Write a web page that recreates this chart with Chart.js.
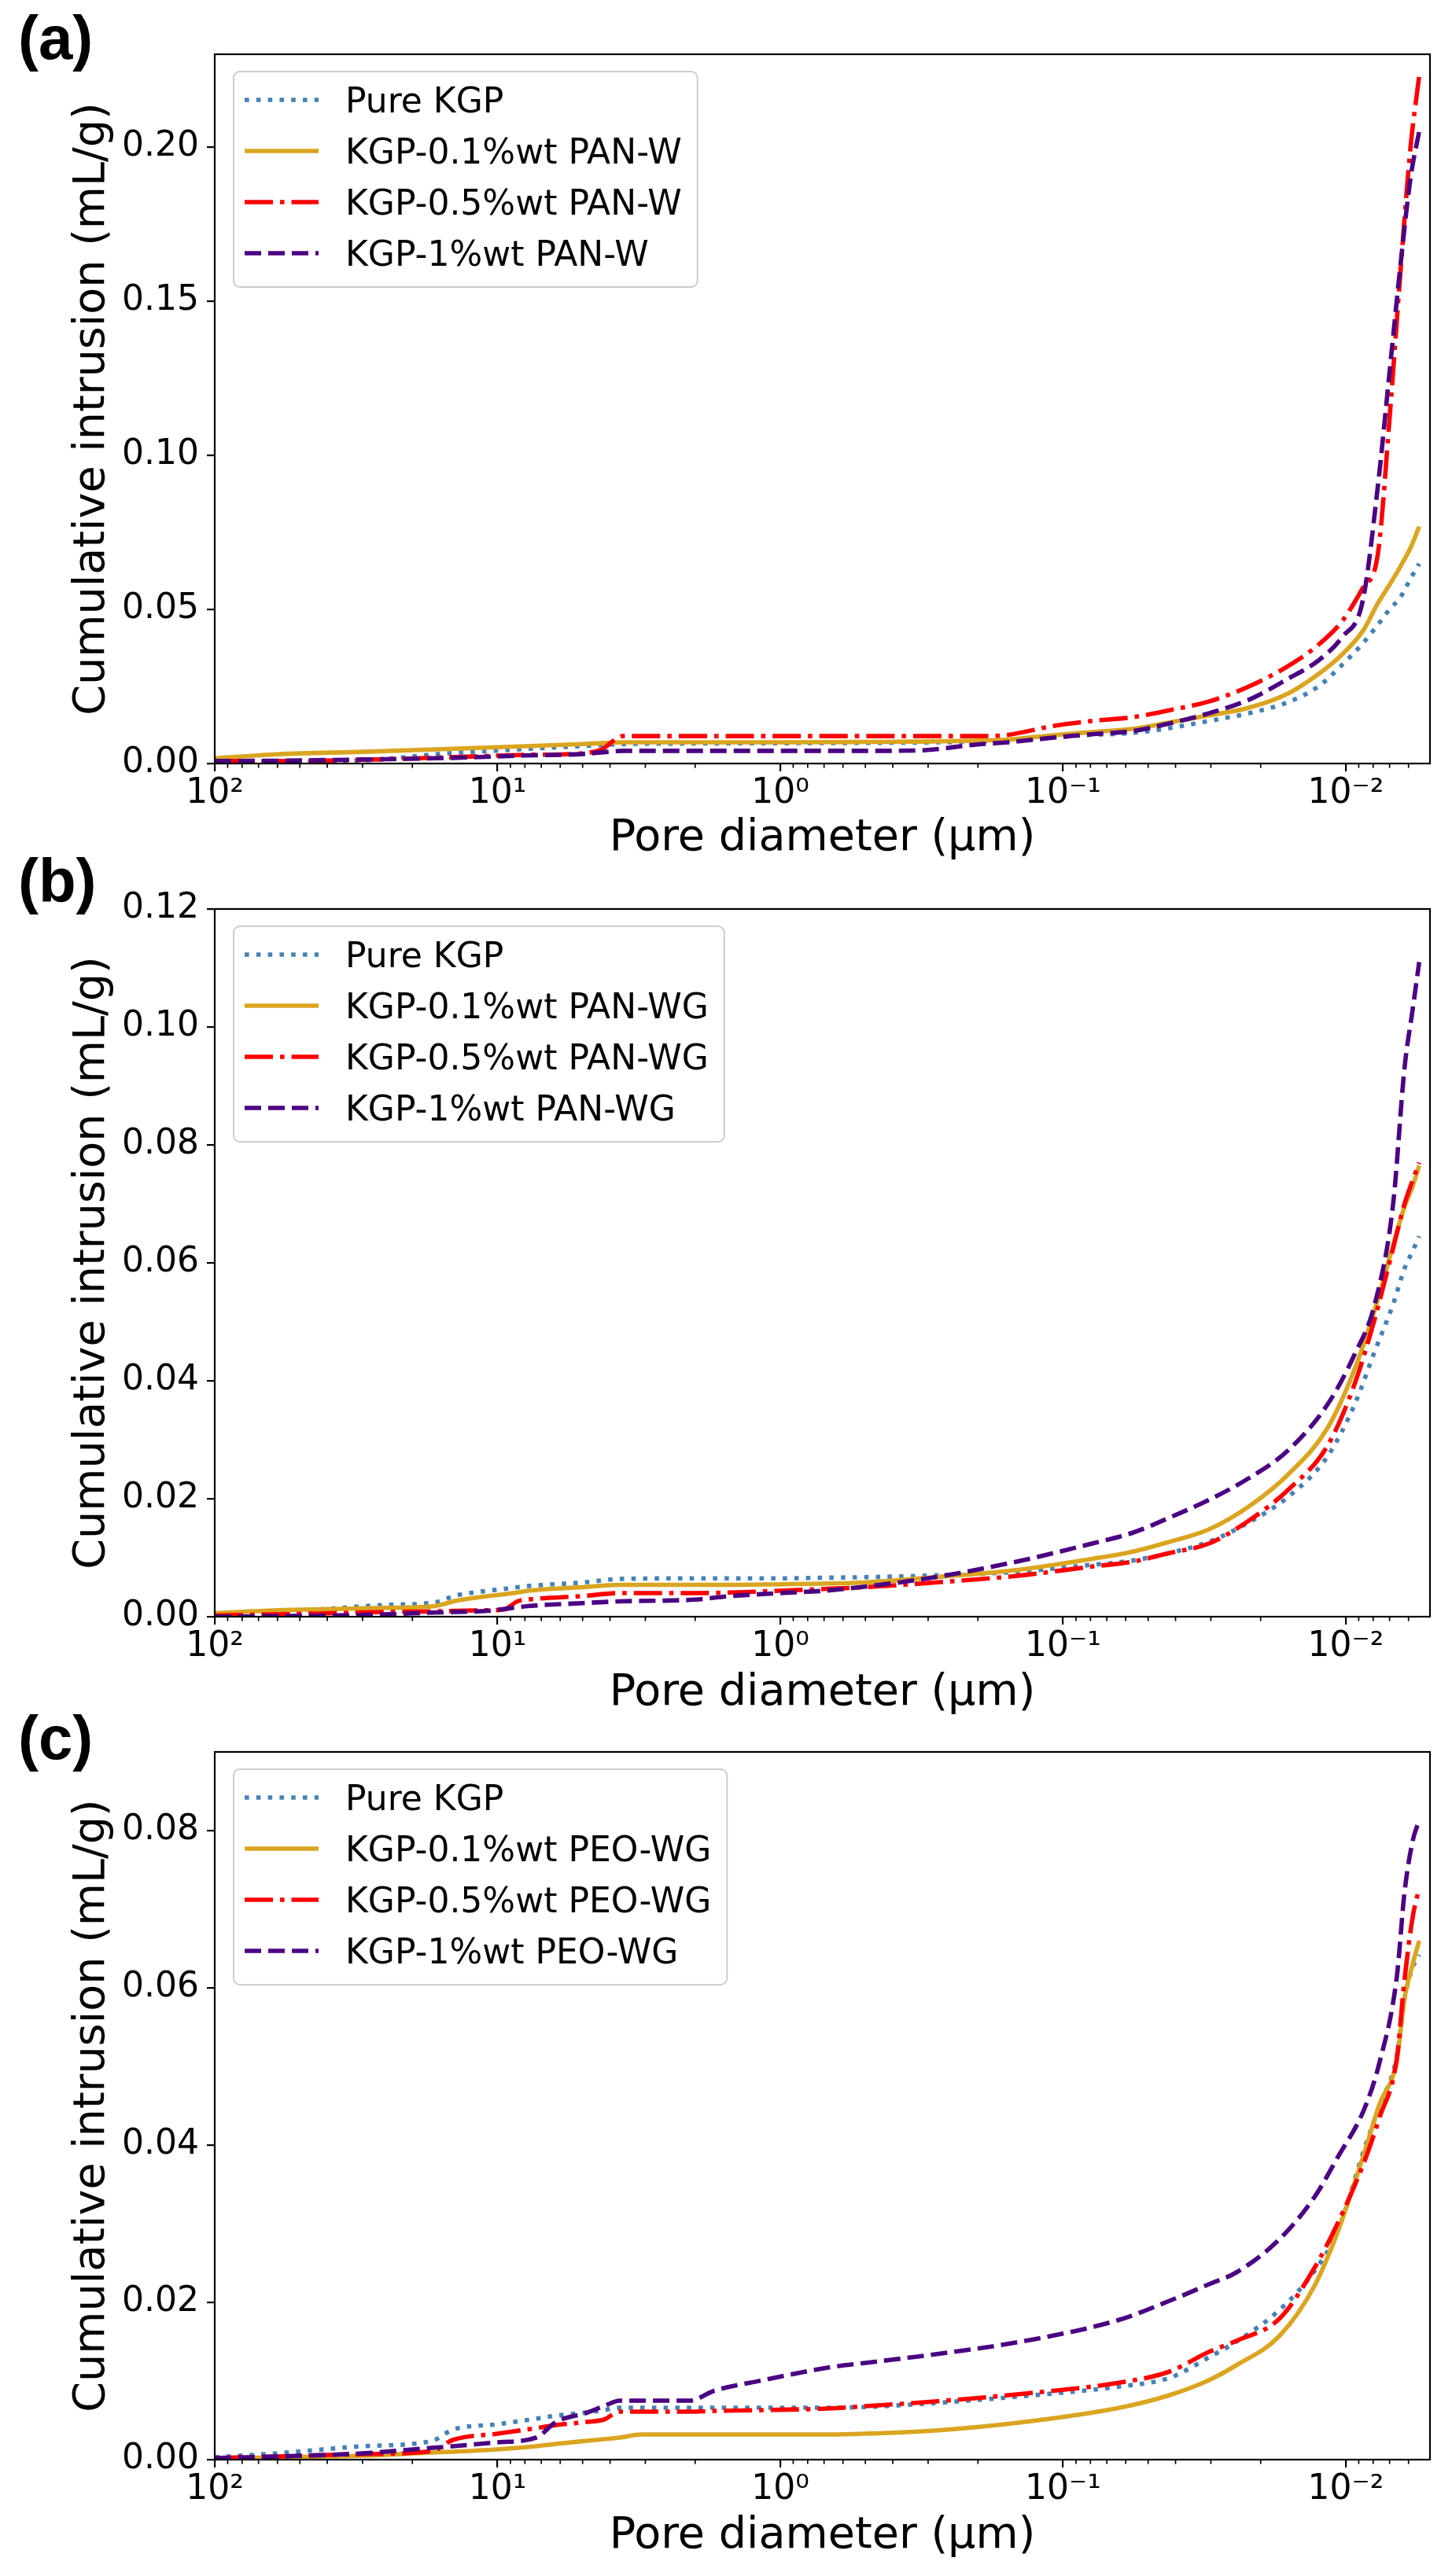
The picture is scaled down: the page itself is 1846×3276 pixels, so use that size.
<!DOCTYPE html>
<html><head><meta charset="utf-8">
<script src="https://cdn.jsdelivr.net/npm/chart.js@4.4.1/dist/chart.umd.min.js"></script>
<style>
html,body{margin:0;padding:0;background:#fff;}
body{width:1846px;height:3276px;position:relative;overflow:hidden;}
canvas{position:absolute;left:0;}
.plab{position:absolute;font-family:'Liberation Sans',Arial,sans-serif;font-weight:bold;font-size:78px;line-height:78px;color:#000;z-index:5;}
</style></head><body>
<canvas id="ca" width="1846" height="1100" style="top:0px"></canvas>
<canvas id="cb" width="1846" height="1090" style="top:1100px"></canvas>
<canvas id="cc" width="1846" height="1086" style="top:2190px"></canvas>
<div class="plab" style="left:23px;top:9px">(a)</div>
<div class="plab" style="left:23px;top:1081px">(b)</div>
<div class="plab" style="left:23px;top:2171px">(c)</div>
<script>
// ---------- data ----------
const xTicks = [100, 10, 1, 0.1, 0.01];
const xTickLabels = ['10\u00B2', '10\u00B9', '10\u2070', '10\u207B\u00B9', '10\u207B\u00B2'];
const xMin = 0.005038, xMax = 100;

// Panel (a)
const diamA = [100, 60, 30, 15, 8, 5, 4.3, 3.6, 2, 1, 0.5, 0.33, 0.2, 0.16, 0.108, 0.079, 0.057, 0.042, 0.0305, 0.022, 0.016, 0.0125, 0.0103, 0.0087, 0.0077, 0.007, 0.0064, 0.0059, 0.0055];
const pureA = [0.0005, 0.0006, 0.0010, 0.0033, 0.0047, 0.0057, 0.0060, 0.0063, 0.0065, 0.0066, 0.0067, 0.0068, 0.0071, 0.0074, 0.0085, 0.0093, 0.0099, 0.0115, 0.0138, 0.0163, 0.0199, 0.0250, 0.0320, 0.0390, 0.0450, 0.0500, 0.0540, 0.0600, 0.0648];
const pan01A = [0.0017, 0.0030, 0.0038, 0.0047, 0.0056, 0.0063, 0.0066, 0.0069, 0.0069, 0.0069, 0.0070, 0.0071, 0.0074, 0.0077, 0.0092, 0.0102, 0.0112, 0.0133, 0.0156, 0.0181, 0.0227, 0.0290, 0.0354, 0.0430, 0.0520, 0.0580, 0.0640, 0.0700, 0.0768];
const pan05A = [0.0008, 0.0008, 0.0012, 0.0020, 0.0028, 0.0033, 0.0045, 0.0089, 0.0089, 0.0089, 0.0089, 0.0089, 0.0089, 0.0092, 0.0122, 0.0138, 0.0150, 0.0173, 0.0201, 0.0250, 0.0316, 0.0385, 0.0462, 0.0570, 0.0680, 0.1120, 0.1600, 0.2000, 0.2230];
const pan1A = [0.0008, 0.0009, 0.0013, 0.0018, 0.0026, 0.0031, 0.0036, 0.0041, 0.0041, 0.0041, 0.0041, 0.0042, 0.0062, 0.0068, 0.0084, 0.0095, 0.0105, 0.0130, 0.0163, 0.0207, 0.0275, 0.0334, 0.0410, 0.0530, 0.0900, 0.1270, 0.1620, 0.1900, 0.2050];
const labelsA = ['Pure KGP', 'KGP-0.1%wt PAN-W', 'KGP-0.5%wt PAN-W', 'KGP-1%wt PAN-W'];

// Panel (b)
const diamB = [100, 60, 38, 25, 16.7, 14, 10.8, 9.5, 8.5, 7.8, 5, 3.7, 2, 1.5, 1, 0.7, 0.5, 0.283, 0.147, 0.079, 0.057, 0.042, 0.0305, 0.022, 0.016, 0.0116, 0.0093, 0.0079, 0.0068, 0.0062, 0.0058, 0.0055];
const pureB = [0.0005, 0.0008, 0.0014, 0.0020, 0.0024, 0.0036, 0.0044, 0.0047, 0.0050, 0.0052, 0.0058, 0.0064, 0.0065, 0.0065, 0.0065, 0.0066, 0.0067, 0.0070, 0.0076, 0.0088, 0.0095, 0.0108, 0.0127, 0.0160, 0.0203, 0.0272, 0.0360, 0.0450, 0.0530, 0.0590, 0.0620, 0.0645];
const pan01B = [0.0006, 0.0011, 0.0013, 0.0015, 0.0018, 0.0027, 0.0035, 0.0038, 0.0041, 0.0044, 0.0050, 0.0054, 0.0054, 0.0054, 0.0055, 0.0056, 0.0058, 0.0067, 0.0079, 0.0098, 0.0110, 0.0127, 0.0148, 0.0187, 0.0241, 0.0320, 0.0420, 0.0520, 0.0630, 0.0695, 0.0730, 0.0765];
const pan05B = [0.0002, 0.0004, 0.0006, 0.0008, 0.0009, 0.0010, 0.0011, 0.0012, 0.0026, 0.0029, 0.0035, 0.0040, 0.0040, 0.0041, 0.0044, 0.0047, 0.0050, 0.0058, 0.0069, 0.0085, 0.0093, 0.0108, 0.0124, 0.0163, 0.0215, 0.0290, 0.0395, 0.0505, 0.0625, 0.0700, 0.0740, 0.0770];
const pan1B = [0.0000, 0.0001, 0.0002, 0.0004, 0.0007, 0.0008, 0.0010, 0.0013, 0.0016, 0.0018, 0.0023, 0.0026, 0.0029, 0.0035, 0.0040, 0.0044, 0.0051, 0.0067, 0.0093, 0.0124, 0.0142, 0.0168, 0.0198, 0.0235, 0.0282, 0.0360, 0.0445, 0.0530, 0.0700, 0.0930, 0.1030, 0.1110];
const labelsB = ['Pure KGP', 'KGP-0.1%wt PAN-WG', 'KGP-0.5%wt PAN-WG', 'KGP-1%wt PAN-WG'];

// Panel (c)
const diamC = [100, 60, 30, 17, 14.4, 10, 7.3, 6.2, 4.8, 4.2, 3.7, 3.1, 2.1, 1.7, 1.15, 0.68, 0.5, 0.283, 0.136, 0.063, 0.042, 0.0305, 0.0244, 0.0172, 0.0129, 0.0107, 0.0086, 0.0076, 0.0066, 0.0062, 0.0058, 0.0055];
const pureC = [0.0003, 0.0008, 0.0017, 0.0024, 0.0038, 0.0045, 0.0052, 0.0056, 0.0060, 0.0063, 0.0066, 0.0066, 0.0066, 0.0066, 0.0066, 0.0066, 0.0067, 0.0072, 0.0081, 0.0093, 0.0104, 0.0130, 0.0150, 0.0190, 0.0240, 0.0290, 0.0395, 0.0450, 0.0513, 0.0586, 0.0626, 0.0642];
const peo01C = [0.0001, 0.0003, 0.0005, 0.0009, 0.0010, 0.0013, 0.0017, 0.0020, 0.0024, 0.0026, 0.0028, 0.0032, 0.0032, 0.0032, 0.0032, 0.0032, 0.0033, 0.0037, 0.0048, 0.0066, 0.0082, 0.0101, 0.0120, 0.0157, 0.0221, 0.0289, 0.0390, 0.0452, 0.0508, 0.0586, 0.0630, 0.0660];
const peo05C = [0.0002, 0.0004, 0.0007, 0.0011, 0.0025, 0.0033, 0.0040, 0.0044, 0.0048, 0.0051, 0.0061, 0.0061, 0.0061, 0.0062, 0.0063, 0.0065, 0.0068, 0.0074, 0.0084, 0.0098, 0.0112, 0.0137, 0.0151, 0.0179, 0.0244, 0.0300, 0.0379, 0.0435, 0.0510, 0.0610, 0.0690, 0.0727];
const peo1C = [0.0002, 0.0004, 0.0008, 0.0015, 0.0017, 0.0022, 0.0028, 0.0048, 0.0060, 0.0068, 0.0075, 0.0075, 0.0075, 0.0088, 0.0101, 0.0117, 0.0123, 0.0134, 0.0151, 0.0178, 0.0202, 0.0223, 0.0238, 0.0280, 0.0334, 0.0384, 0.0446, 0.0505, 0.0614, 0.0721, 0.0787, 0.0813];
const labelsC = ['Pure KGP', 'KGP-0.1%wt PEO-WG', 'KGP-0.5%wt PEO-WG', 'KGP-1%wt PEO-WG'];

// ---------- styles ----------
const LW = 5.6;
const styles = [
  {color: '#4682B4', dash: [5.6, 9.2]},
  {color: '#DAA520', dash: []},
  {color: '#FF0000', dash: [36, 9, 5.6, 9]},
  {color: '#4B0082', dash: [21, 9]}
];
const TICK_FONT = 44, TITLE_FONT = 55.6, LEG_FONT = 44;

Chart.defaults.font.family = "'DejaVu Sans', sans-serif";
Chart.defaults.color = '#000';

const deco = {
  id: 'deco',
  afterDraw(chart) {
    const {ctx, chartArea: a, scales: {x}} = chart;
    ctx.save();
    ctx.strokeStyle = '#000';
    ctx.lineWidth = 1.7;
    for (let k = -3; k <= 2; k++) {
      for (let m = 2; m <= 9; m++) {
        const v = m * Math.pow(10, k);
        if (v < x.min || v > x.max) continue;
        const p = x.getPixelForValue(v);
        ctx.beginPath(); ctx.moveTo(p, a.bottom); ctx.lineTo(p, a.bottom + 5.6); ctx.stroke();
      }
    }
    ctx.lineWidth = 2.2;
    ctx.strokeRect(a.left, a.top, a.right - a.left, a.bottom - a.top);
    const ds = chart.data.datasets;
    ctx.font = LEG_FONT + 'px "DejaVu Sans"';
    const maxW = Math.max(...ds.map(d => ctx.measureText(d.label).width));
    const bx = a.left + 24, by = a.top + 22, bw = 142 + maxW + 20, bh = 274;
    ctx.beginPath();
    ctx.roundRect(bx, by, bw, bh, 8);
    ctx.fillStyle = 'rgba(255,255,255,0.8)';
    ctx.fill();
    ctx.strokeStyle = '#cccccc';
    ctx.lineWidth = 2;
    ctx.stroke();
    ds.forEach((d, i) => {
      const yc = by + 36 + 65 * i;
      ctx.setLineDash(d.borderDash || []);
      ctx.strokeStyle = d.borderColor;
      ctx.lineWidth = LW;
      ctx.lineCap = 'butt';
      ctx.beginPath(); ctx.moveTo(bx + 14, yc); ctx.lineTo(bx + 108, yc); ctx.stroke();
      ctx.setLineDash([]);
      ctx.fillStyle = '#000';
      ctx.textBaseline = 'alphabetic';
      ctx.textAlign = 'left';
      ctx.fillText(d.label, bx + 142, by + 52 + 65 * i);
    });
    ctx.restore();
  }
};

function makeChart(id, diam, seriesVals, labels, cfg) {
  const el = document.getElementById(id);
  const H = el.height;
  const datasets = seriesVals.map((vals, i) => ({
    label: labels[i],
    data: diam.map((d, j) => ({x: d, y: vals[j]})),
    borderColor: styles[i].color,
    borderWidth: LW,
    borderDash: styles[i].dash,
    borderCapStyle: 'butt',
    borderJoinStyle: 'round',
    pointRadius: 0,
    fill: false,
    cubicInterpolationMode: 'monotone',
    order: seriesVals.length - 1 - i,
    clip: 0
  }));
  const gridOpts = {drawOnChartArea: false, drawTicks: true, tickLength: 10, tickWidth: 2.2, tickColor: '#000', color: '#000', lineWidth: 2.2};
  return new Chart(el, {
    type: 'line',
    data: {datasets},
    options: {
      responsive: false, animation: false, devicePixelRatio: 1,
      layout: {padding: {top: cfg.top, right: 28, left: 0, bottom: 0}},
      plugins: {legend: {display: false}, tooltip: {enabled: false}},
      scales: {
        x: {
          type: 'logarithmic', reverse: true, min: xMin, max: xMax,
          afterBuildTicks: s => { s.ticks = xTicks.map(v => ({value: v})); },
          afterFit: s => { s.height = H - cfg.bottom; },
          ticks: {callback: (v) => xTickLabels[xTicks.indexOf(v)] || '', font: {size: TICK_FONT}, color: '#000', padding: 2, maxRotation: 0, autoSkip: false},
          grid: gridOpts,
          border: {display: false},
          title: {display: true, text: 'Pore diameter (\u03BCm)', font: {size: TITLE_FONT}, color: '#000', padding: {top: 0, bottom: cfg.xtpad}}
        },
        y: {
          min: 0, max: cfg.ymax,
          afterFit: s => { s.width = 273; },
          ticks: {stepSize: cfg.step, includeBounds: false, callback: v => Number(v).toFixed(2), font: {size: TICK_FONT}, color: '#000', padding: 10},
          grid: gridOpts,
          border: {display: false},
          title: {display: true, text: 'Cumulative intrusion (mL/g)', font: {size: TITLE_FONT}, color: '#000', padding: {top: 84, bottom: 0}}
        }
      }
    },
    plugins: [deco]
  });
}

makeChart('ca', diamA, [pureA, pan01A, pan05A, pan1A], labelsA, {top: 69, bottom: 971, xtpad: 0, ymax: 0.23, step: 0.05});
makeChart('cb', diamB, [pureB, pan01B, pan05B, pan1B], labelsB, {top: 56, bottom: 956, xtpad: 3, ymax: 0.12, step: 0.02});
makeChart('cc', diamC, [pureC, peo01C, peo05C, peo1C], labelsC, {top: 38, bottom: 938, xtpad: 17, ymax: 0.09, step: 0.02});
</script>
</body></html>
